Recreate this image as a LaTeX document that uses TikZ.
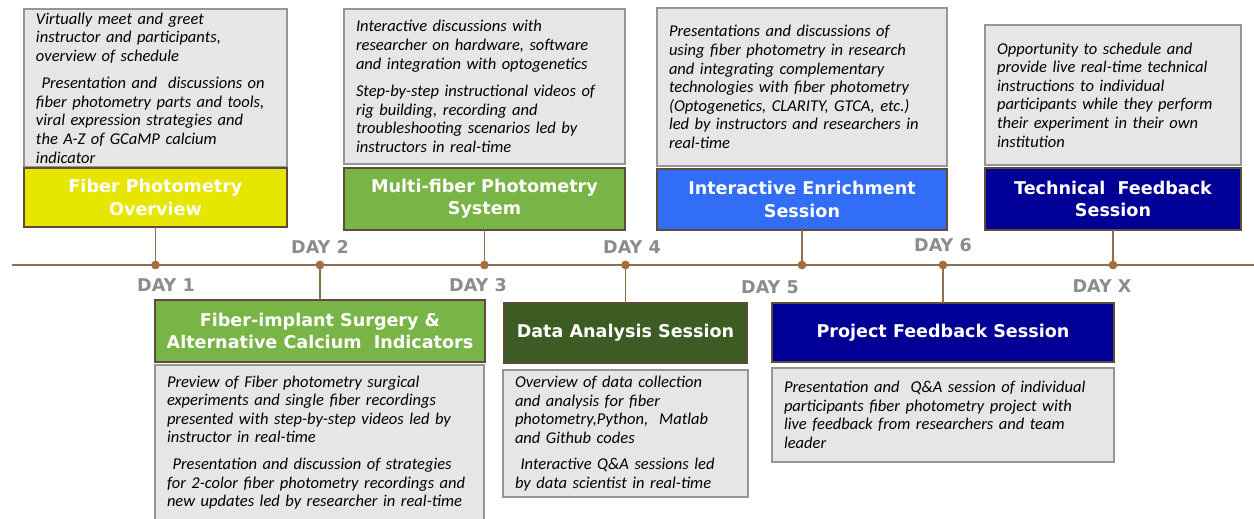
\documentclass[tikz,border=0pt]{standalone}
\usepackage{fontspec}
\newfontfamily\descfont{Carlito}
\newfontfamily\headfont{DejaVu Sans}
\usetikzlibrary{shadows}
\definecolor{boxgray}{RGB}{230,230,230}
\definecolor{framegray}{RGB}{150,150,150}
\definecolor{fpyellow}{RGB}{230,230,0}
\definecolor{fpgreen}{RGB}{120,180,70}
\definecolor{fpdarkgreen}{RGB}{60,92,36}
\definecolor{fpblue}{RGB}{50,110,245}
\definecolor{fpnavy}{RGB}{0,0,150}
\definecolor{edgebrown}{RGB}{95,75,55}
\definecolor{linebrown}{RGB}{140,110,80}
\definecolor{dotbrown}{RGB}{165,110,60}
\definecolor{daygray}{RGB}{140,140,140}

\begin{document}
\begin{tikzpicture}[
  x=0.02cm, y=-0.02cm, % Pixelraster der Vorlage
  desc/.style={draw=framegray, fill=boxgray, line width=0.8pt, anchor=north west,
    align=left, inner xsep=0.24cm, inner ysep=2pt, outer sep=0pt,
    font=\descfont\itshape\fontsize{9.4}{10.6}\selectfont,
    drop shadow={shadow xshift=0.8pt,shadow yshift=-0.8pt,opacity=0.35}},
  ttl/.style={draw=edgebrown, line width=0.7pt, anchor=north west, align=center,
    text=white, inner sep=2pt, outer sep=0pt,
    font=\headfont\bfseries\fontsize{10}{12.6}\selectfont,
    drop shadow={shadow xshift=0.8pt,shadow yshift=-0.8pt,opacity=0.35}},
  day/.style={text=daygray, font=\headfont\bfseries\fontsize{10}{12}\selectfont},
  dot/.style={circle, fill=dotbrown, inner sep=0pt, minimum size=5pt},
  tline/.style={draw=linebrown, line width=1pt},
  conn/.style={draw=linebrown, line width=0.8pt}
  ]
\useasboundingbox (0,0) rectangle (1254,518);

% Zeitachse
\coordinate (tl-a) at (12,265);
\coordinate (tl-b) at (1254,265);
\draw[tline] (tl-a) -- (tl-b);

% obere Reihe
\node[desc, minimum width=5.26cm, minimum height=3.16cm, text width=4.78cm] (fpo-d) at (24,9)
  {Virtually meet and greet\\ instructor and participants,\\ overview of schedule\\[5pt]
   \ Presentation and\ \ discussions on\\ fiber photometry parts and tools,\\
   viral expression strategies and\\ the A-Z of GCaMP calcium\\ indicator};
\node[ttl, fill=fpyellow, minimum width=5.26cm, minimum height=1.18cm] (fpo) at (24,168)
  {Fiber Photometry\\Overview};

\node[desc, minimum width=5.62cm, minimum height=3.10cm, text width=5.14cm] (mfp-d) at (344,9)
  {Interactive discussions with\\ researcher on hardware, software\\ and integration with optogenetics\\[5pt]
   Step-by-step instructional videos of\\ rig building, recording and\\
   troubleshooting scenarios led by\\ instructors in real-time};
\node[ttl, fill=fpgreen, minimum width=5.62cm, minimum height=1.24cm] (mfp) at (344,168)
  {Multi-fiber Photometry\\System};

\node[desc, minimum width=5.80cm, minimum height=3.16cm, text width=5.32cm] (ies-d) at (657,8)
  {Presentations and discussions of\\ using fiber photometry\ in research\\
   and integrating complementary\\ technologies with fiber photometry\\
   (Optogenetics, CLARITY, GTCA, etc.)\\ led by\ instructors and researchers in\\ real-time};
\node[ttl, fill=fpblue, minimum width=5.80cm, minimum height=1.22cm] (ies) at (657,169)
  {Interactive Enrichment\\Session};

\node[desc, minimum width=5.12cm, minimum height=2.80cm, text width=4.64cm] (tfs-d) at (985,25)
  {Opportunity to schedule and\\ provide live real-time technical\\ instructions to individual\\
   participants while they perform\\ their experiment in their own\\ institution};
\node[ttl, fill=fpnavy, minimum width=5.12cm, minimum height=1.24cm] (tfs) at (985,168)
  {Technical\ \ Feedback\\Session};

% untere Reihe
\node[ttl, fill=fpgreen, minimum width=6.60cm, minimum height=1.24cm] (fis) at (155,300)
  {Fiber-implant Surgery \&\\Alternative Calcium\ \ Indicators};
\node[desc, minimum width=6.58cm, minimum height=3.10cm, text width=6.10cm] (fis-d) at (155,365)
  {Preview of Fiber photometry\ surgical\\ experiments and single fiber recordings\\
   presented with step-by-step videos led by\\ instructor in real-time\\[4.5pt]
   \ Presentation and discussion of strategies\\ for 2-color fiber photometry\ recordings and\\
   new updates led by researcher in real-time};

\node[ttl, fill=fpdarkgreen, minimum width=4.86cm, minimum height=1.20cm] (das) at (504,303)
  {Data Analysis Session};
\node[desc, minimum width=4.90cm, minimum height=2.54cm, text width=4.42cm] (das-d) at (503,370)
  {Overview of data collection\\ and analysis for fiber\\ photometry,Python,\ \ Matlab\\
   and Github codes\\[4.5pt]
   \ Interactive Q\&A sessions led\\ by data scientist in real-time};

\node[ttl, fill=fpnavy, minimum width=6.84cm, minimum height=1.18cm] (pfs) at (772,303)
  {Project Feedback Session};
\node[desc, minimum width=6.84cm, minimum height=1.88cm, text width=6.36cm] (pfs-d) at (772,368)
  {Presentation and\ \ Q\&A session of individual\\ participants fiber photometry\ project with\\
   live feedback from researchers and team\\ leader};

% Verbindungen und Punkte
\coordinate (p1) at (fpo.south |- tl-a);
\coordinate (p2) at (fis.north |- tl-a);
\coordinate (p3) at (mfp.south |- tl-a);
\coordinate (p4) at (das.north |- tl-a);
\coordinate (p5) at (ies.south |- tl-a);
\coordinate (p6) at (pfs.north |- tl-a);
\coordinate (p7) at (tfs.south |- tl-a);
\draw[conn] (fpo.south) -- (p1);
\draw[conn] (mfp.south) -- (p3);
\draw[conn] (ies.south) -- (p5);
\draw[conn] (tfs.south) -- (p7);
\draw[conn] (p2) -- (fis.north);
\draw[conn] (p4) -- (das.north);
\draw[conn] (p6) -- (pfs.north);
\foreach \p in {p1,p2,p3,p4,p5,p6,p7}
  \node[dot] at (\p) {};

% Tage
\node[day] (day1) at (166,285) {DAY 1};
\node[day] (day2) at (320,247) {DAY 2};
\node[day] (day3) at (478,285) {DAY 3};
\node[day] (day4) at (632,247) {DAY 4};
\node[day] (day5) at (770,287) {DAY 5};
\node[day] (day6) at (943,245) {DAY 6};
\node[day] (dayx) at (1102,286) {DAY X};

\end{tikzpicture}
\end{document}
